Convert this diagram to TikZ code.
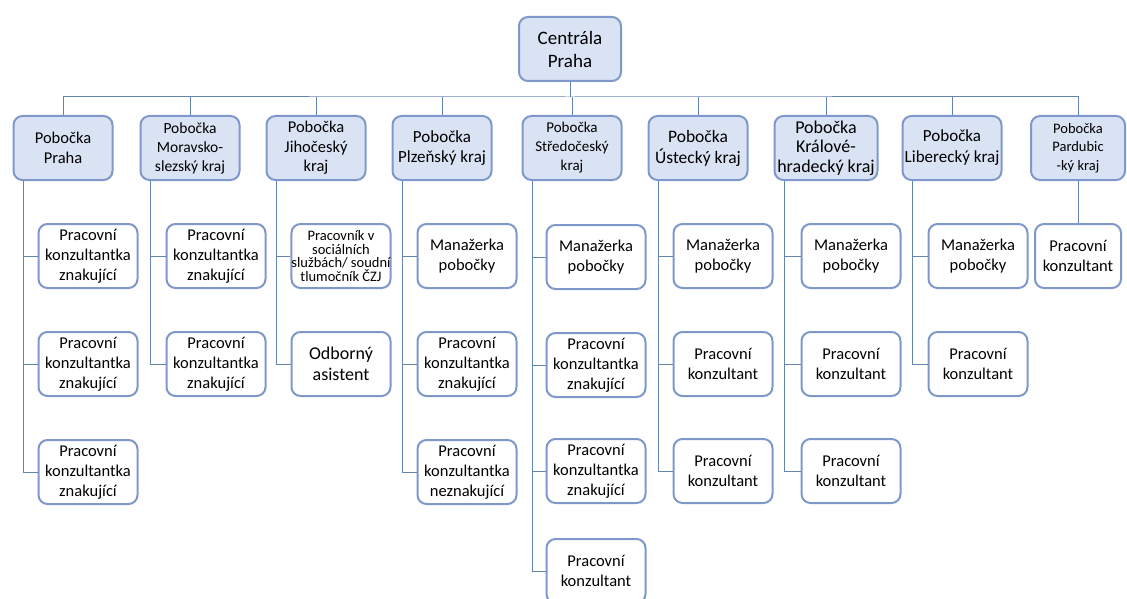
\documentclass[tikz,border=0pt]{standalone}
\usepackage{fontspec}
\setmainfont{Carlito}
\usetikzlibrary{positioning,calc}
\definecolor{boxline}{HTML}{7F98CB}
\definecolor{boxfill}{HTML}{DAE3F3}
\definecolor{linkline}{HTML}{6585AE}

\begin{document}
\begin{tikzpicture}[x=1pt, y=-1pt,
  unit/.style={draw=boxline, line width=2pt, rounded corners=9pt,
    minimum width=99pt, minimum height=64pt, inner sep=1pt, align=center,
    font=\fontsize{15.5}{19}\selectfont},
  head/.style={unit, fill=boxfill},
  staff/.style={unit, fill=white, font=\fontsize{16.5}{20}\selectfont},
  link/.style={draw=linkline, line width=1pt}
]
  \useasboundingbox (0,0) rectangle (1127,599);

  % Headquarters
  \node[head, minimum width=102pt, font=\fontsize{19}{23}\selectfont] (hq) at (570,49) {Centrála\\Praha};

  % Branches
  \node[head, font=\fontsize{16.5}{19.5}\selectfont] (praha) at (63,148) {Pobočka\\Praha};
  \node[head, font=\fontsize{15.5}{19}\selectfont] (mor) at (190,148) {Pobočka\\Moravsko-\\slezský kraj};
  \node[head, font=\fontsize{16.5}{19.5}\selectfont] (jih) at (316,148) {Pobočka\\Jihočeský\\kraj};
  \node[head, font=\fontsize{17}{20}\selectfont] (plz) at (442,148) {Pobočka\\Plzeňský kraj};
  \node[head, font=\fontsize{15}{19}\selectfont] (stc) at (572,148) {Pobočka\\Středočeský\\kraj};
  \node[head, font=\fontsize{17.5}{21}\selectfont] (ust) at (698,148) {Pobočka\\Ústecký kraj};
  \node[head, minimum width=103pt, font=\fontsize{18}{19.5}\selectfont] (kh) at (826,148) {Pobočka\\Králové-\\hradecký kraj};
  \node[head, font=\fontsize{17}{21}\selectfont] (lib) at (952,148) {Pobočka\\Liberecký kraj};
  \node[head, minimum width=94pt, font=\fontsize{14.5}{18.5}\selectfont] (par) at (1078,148) {Pobočka\\Pardubic\\-ký kraj};

  % Staff
  \node[staff] (praha1) at (88,256) {Pracovní\\konzultantka\\znakující};
  \node[staff] (praha2) at (88,364) {Pracovní\\konzultantka\\znakující};
  \node[staff] (praha3) at (88,472) {Pracovní\\konzultantka\\znakující};

  \node[staff] (mor1) at (216,256) {Pracovní\\konzultantka\\znakující};
  \node[staff] (mor2) at (216,364) {Pracovní\\konzultantka\\znakující};

  \node[staff, inner sep=0pt, font=\fontsize{14.5}{13.5}\selectfont] (jih1) at (341,256) {Pracovník v\\sociálních\\službách/ soudní\\tlumočník ČZJ};
  \node[staff, font=\fontsize{18}{21}\selectfont] (jih2) at (341,364) {Odborný\\asistent};

  \node[staff] (plz1) at (467,256) {Manažerka\\pobočky};
  \node[staff] (plz2) at (467,364) {Pracovní\\konzultantka\\znakující};
  \node[staff] (plz3) at (467,472) {Pracovní\\konzultantka\\neznakující};

  \node[staff] (stc1) at (596,257) {Manažerka\\pobočky};
  \node[staff] (stc2) at (596,365) {Pracovní\\konzultantka\\znakující};
  \node[staff] (stc3) at (596,471) {Pracovní\\konzultantka\\znakující};
  \node[staff] (stc4) at (596,571) {Pracovní\\konzultant};

  \node[staff] (ust1) at (723,256) {Manažerka\\pobočky};
  \node[staff] (ust2) at (723,364) {Pracovní\\konzultant};
  \node[staff] (ust3) at (723,471) {Pracovní\\konzultant};

  \node[staff] (kh1) at (851,256) {Manažerka\\pobočky};
  \node[staff] (kh2) at (851,364) {Pracovní\\konzultant};
  \node[staff] (kh3) at (851,471) {Pracovní\\konzultant};

  \node[staff] (lib1) at (978,256) {Manažerka\\pobočky};
  \node[staff] (lib2) at (978,364) {Pracovní\\konzultant};

  \node[staff, minimum width=86pt] (par1) at (1078,256) {Pracovní\\konzultant};

  % Headquarters to branches
  \coordinate (bus) at (570,97);
  \draw[link] (hq.south) -- (bus);
  \draw[link] (praha.north) |- (bus) -| (par.north);
  \foreach \b in {mor,jih,plz,stc,ust,kh,lib}
    \draw[link] (\b.north) -- (\b.north |- bus);

  % Branches to staff
  \foreach \b/\s in {praha/praha1, praha/praha2, praha/praha3, mor/mor1, mor/mor2,
      jih/jih1, jih/jih2, plz/plz1, plz/plz2, plz/plz3, stc/stc1, stc/stc2,
      stc/stc3, stc/stc4, ust/ust1, ust/ust2, ust/ust3, kh/kh1, kh/kh2, kh/kh3,
      lib/lib1, lib/lib2}
    \draw[link] ([xshift=11pt]\b.south west) |- (\s.west);
  \draw[link] (par.south) -- (par1.north);
\end{tikzpicture}
\end{document}
